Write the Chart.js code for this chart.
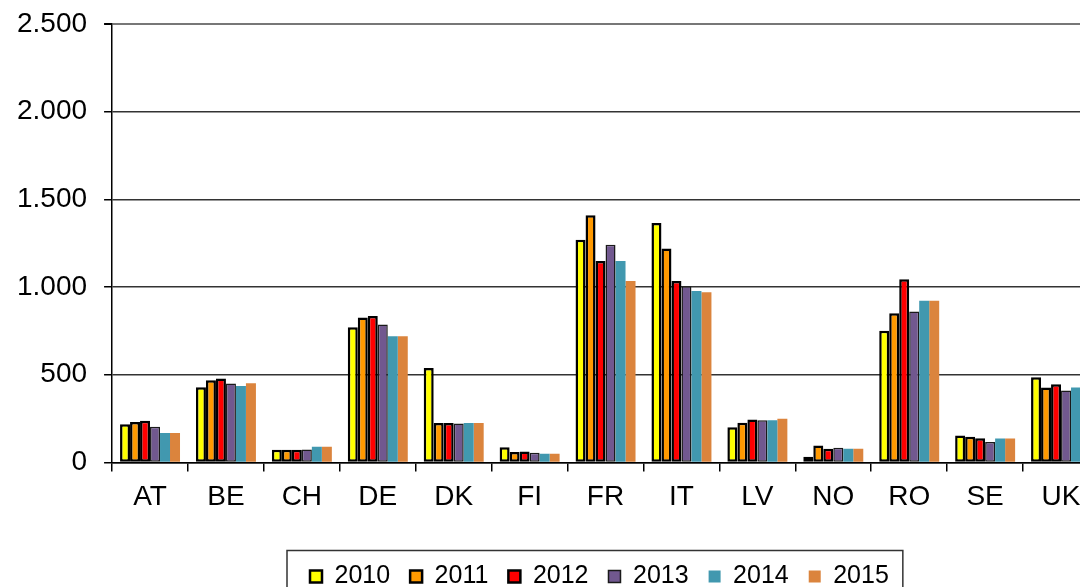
<!DOCTYPE html>
<html>
<head>
<meta charset="utf-8">
<script src="https://cdn.jsdelivr.net/npm/chart.js@4/dist/chart.umd.min.js"></script>
<style>
html,body{margin:0;padding:0;overflow:hidden;background:#fff;width:1080px;height:587px;}
#wrap{position:absolute;left:0;top:0;width:1190px;height:610px;}
canvas{display:block;}
</style>
</head>
<body>
<div id="wrap"><canvas id="c" width="1190" height="610"></canvas></div>
<script>
const categories = ['AT','BE','CH','DE','DK','FI','FR','IT','LV','NO','RO','SE','UK'];
const seriesNames = ['2010','2011','2012','2013','2014','2015'];
const v2010 = [218, 428, 72, 770, 539, 87, 1269, 1365, 201, 32, 751, 154, 486];
const v2011 = [230, 468, 72, 827, 224, 60, 1409, 1220, 226, 97, 850, 146, 427];
const v2012 = [238, 478, 72, 835, 224, 62, 1149, 1035, 245, 78, 1044, 138, 446];
const v2013 = [204, 450, 74, 787, 222, 55, 1241, 1005, 240, 83, 861, 116, 410];
const v2014 = [167, 436, 89, 720, 224, 49, 1149, 978, 240, 78, 922, 137, 427];
const v2015 = [167, 451, 89, 720, 224, 49, 1035, 970, 249, 78, 922, 137, 430];
const yTicks = [0, 500, 1000, 1500, 2000, 2500];

const values = [v2010, v2011, v2012, v2013, v2014, v2015];
const fills = ['#FFFF00', '#FF9900', '#FF0000', '#71588F', '#4198AF', '#DB843D'];
const borders = ['#000', '#000', '#000', '#1a1a1a', '#4198AF', '#DB843D'];
const bw = [2.5, 2.5, 2.5, 1.5, 0, 0];
const FONT = 'Liberation Sans, Arial, sans-serif';

function fmt(n){
  return String(n).replace(/\B(?=(\d{3})+(?!\d))/g, '.');
}

const legendPlace = {
  id: 'legendPlace',
  afterLayout(chart){
    const lg = chart.legend;
    if(!lg) return;
    const pad = lg.options.labels.padding;
    const start = ((lg.left + pad) + (lg.right - lg.lineWidths[0])) / 2;
    const dx = 310 - start;
    const dy = 544 - lg.top;
    lg.left += dx; lg.right += dx;
    lg.top += dy; lg.bottom += dy;
  },
  afterDraw(chart){
    const lg = chart.legend;
    if(!lg || !lg.legendHitBoxes || !lg.legendHitBoxes.length) return;
    const hb = lg.legendHitBoxes;
    let l = Infinity, r = -Infinity;
    hb.forEach(h => { l = Math.min(l, h.left); r = Math.max(r, h.left + h.width); });
    const ctx = chart.ctx;
    ctx.save();
    ctx.strokeStyle = '#333';
    ctx.lineWidth = 1.5;
    ctx.strokeRect(l - 23, 550.5, (r - l) + 37, 60);
    ctx.restore();
  }
};

new Chart(document.getElementById('c'), {
  type: 'bar',
  data: {
    labels: categories,
    datasets: seriesNames.map((n, i) => ({
      label: n,
      data: values[i],
      backgroundColor: fills[i],
      borderColor: borders[i],
      borderWidth: bw[i],
      borderSkipped: false,
      categoryPercentage: 0.79,
      barPercentage: 1.0
    }))
  },
  options: {
    responsive: false,
    animation: false,
    devicePixelRatio: 1,
    layout: { padding: { left: 0, right: 91, top: 0, bottom: 32 } },
    plugins: {
      tooltip: { enabled: false },
      legend: {
        position: 'bottom',
        labels: {
          color: '#000',
          font: { family: FONT, size: 25 },
          boxWidth: 12,
          boxHeight: 12,
          padding: 20
        }
      }
    },
    scales: {
      x: {
        grid: { display: true, drawOnChartArea: false, drawTicks: true, tickLength: 9, tickColor: '#000', lineWidth: 1.5, offset: true },
        border: { display: true, color: '#000', width: 1.5 },
        ticks: { color: '#000', font: { family: FONT, size: 28 }, padding: 9, maxRotation: 0, autoSkip: false }
      },
      y: {
        min: 0, max: 2500,
        afterBuildTicks(axis){ axis.ticks = yTicks.map(v => ({ value: v })); },
        afterFit(axis){ axis.paddingTop = 24; },
        grid: {
          color: ctx => (ctx.tick && ctx.tick.value === 2500) ? '#777' : '#333',
          lineWidth: ctx => (ctx.tick && ctx.tick.value === 2500) ? 2 : 1.5,
          tickColor: '#000', tickLength: 8
        },
        border: { display: true, color: '#000', width: 1.5 },
        ticks: { color: '#000', font: { family: FONT, size: 28 }, padding: 17, callback: v => fmt(v) }
      }
    }
  },
  plugins: [legendPlace]
});
</script>
</body>
</html>
